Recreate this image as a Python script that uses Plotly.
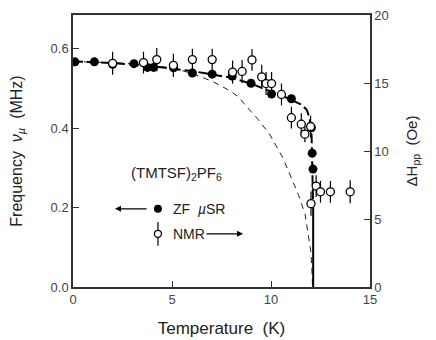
import plotly.graph_objects as go

# ZF muSR frequency (left axis)
T_musr = [0.1, 1.08, 2.0, 3.08, 3.76, 4.07, 5.08, 6.03, 7.03, 8.04, 8.99, 10.03, 11.03, 12.04, 12.08, 12.12]
f_musr = [0.567, 0.567, 0.561, 0.5625, 0.553, 0.553, 0.552, 0.539, 0.536, 0.531, 0.513, 0.486, 0.474, 0.401, 0.337, 0.297]

# NMR linewidth (right axis)
T_nmr = [2.0, 3.56, 4.23, 5.07, 6.03, 7.03, 8.06, 8.54, 9.04, 9.53, 9.75, 10.03, 10.53, 11.03, 11.53, 11.71, 12.0, 12.02, 12.28, 12.5, 13.0, 14.0]
dH_nmr = [16.45, 16.5, 16.72, 16.3, 16.72, 16.72, 15.8, 15.85, 16.7, 15.45, 14.96, 14.96, 14.16, 12.45, 11.97, 11.24, 11.8, 6.13, 7.42, 7.0, 7.0, 7.0]
dH_err = [0.85, 0.8, 0.85, 0.85, 0.8, 0.8, 0.85, 0.85, 0.8, 0.9, 0.85, 0.85, 0.8, 0.8, 0.8, 0.6, 0.8, 0.9, 0.8, 0.8, 0.8, 0.85]

# heavy dashed guide through muSR points
fit_T = [0, 2, 4, 6, 8, 9, 10, 10.5, 11, 11.5, 11.8, 11.95, 12.05, 12.1, 12.13]
fit_f = [0.568, 0.564, 0.556, 0.544, 0.527, 0.512, 0.492, 0.483, 0.472, 0.46, 0.447, 0.425, 0.38, 0.3, 0.2]
drop_T = [12.13, 12.13]
drop_f = [0.2, 0.0]

# thin dashed mean-field curve
mf_T = [0, 3, 5, 6, 7.08, 7.93, 8.35, 8.7, 9.3, 9.95, 10.6, 11.04, 11.38, 11.72, 11.89, 12.01, 12.06, 12.1]
mf_f = [0.568, 0.563, 0.552, 0.538, 0.517, 0.494, 0.479, 0.458, 0.425, 0.383, 0.325, 0.275, 0.233, 0.183, 0.133, 0.09, 0.05, 0.0]

FONT = "Liberation Sans"
INK = "#222"

fig = go.Figure()

fig.add_trace(go.Scatter(x=mf_T, y=mf_f, mode="lines",
                         line=dict(color=INK, width=1, dash="6px,5px"),
                         showlegend=False, hoverinfo="skip"))
fig.add_trace(go.Scatter(x=fit_T, y=fit_f, mode="lines",
                         line=dict(color="black", width=2, dash="10px,4px"),
                         showlegend=False, hoverinfo="skip"))
fig.add_trace(go.Scatter(x=drop_T, y=drop_f, mode="lines",
                         line=dict(color="black", width=2),
                         showlegend=False, hoverinfo="skip"))

fig.add_trace(go.Scatter(x=T_nmr, y=dH_nmr, yaxis="y2", mode="markers",
                         marker=dict(symbol="circle", size=8, color="white",
                                     line=dict(color="black", width=1.3)),
                         error_y=dict(type="data", array=dH_err, visible=True,
                                      color="black", thickness=1.2, width=0),
                         name="NMR", showlegend=False))
fig.add_trace(go.Scatter(x=T_musr, y=f_musr, mode="markers",
                         marker=dict(symbol="circle", size=9, color="black"),
                         name="ZF muSR", showlegend=False))

# legend-like key drawn inside the plot
fig.add_trace(go.Scatter(x=[4.29], y=[0.197], mode="markers",
                         marker=dict(symbol="circle", size=8, color="black"),
                         showlegend=False, hoverinfo="skip"))
fig.add_trace(go.Scatter(x=[4.29], y=[0.134], mode="markers",
                         marker=dict(symbol="circle", size=7, color="white",
                                     line=dict(color="black", width=1.3)),
                         error_y=dict(type="constant", value=0.03, visible=True,
                                      color="black", thickness=1.2, width=0),
                         showlegend=False, hoverinfo="skip"))

tf = dict(family=FONT, size=14, color=INK)
fig.add_annotation(x=2.85, y=0.287, xanchor="left", yanchor="middle", showarrow=False,
                   text="(TMTSF)<sub>2</sub>PF<sub>6</sub>", font=dict(family=FONT, size=15, color=INK))
fig.add_annotation(x=4.95, y=0.197, xanchor="left", yanchor="middle", showarrow=False,
                   text="ZF  <i>µ</i>SR", font=tf)
fig.add_annotation(x=4.95, y=0.134, xanchor="left", yanchor="middle", showarrow=False,
                   text="NMR", font=tf)
fig.add_annotation(x=2.12, y=0.197, ax=3.79, ay=0.197, axref="x", ayref="y",
                   showarrow=True, arrowhead=2, arrowsize=1, arrowwidth=1.2,
                   arrowcolor="black", text="")
fig.add_annotation(x=8.59, y=0.134, ax=6.67, ay=0.134, axref="x", ayref="y",
                   showarrow=True, arrowhead=2, arrowsize=1, arrowwidth=1.2,
                   arrowcolor="black", text="")

axis_common = dict(showline=True, linecolor="#333", linewidth=1.5, ticks="inside",
                   ticklen=6, tickcolor="#333", tickwidth=1.2, showgrid=False,
                   zeroline=False, automargin=False, ticklabeloverflow="allow",
                   tickfont=dict(family=FONT, size=13, color="#444"))

# the page body adds an 8px offset, so the figure is sized to fit inside the window
fig.update_layout(
    width=428, height=332,
    margin=dict(l=65, r=66, t=7, b=53),
    paper_bgcolor="white", plot_bgcolor="white",
    xaxis=dict(range=[0, 15], tickvals=[0, 5, 10, 15], mirror=True,
               title=dict(text="Temperature  (K)", font=dict(family=FONT, size=17, color=INK), standoff=16),
               **axis_common),
    yaxis=dict(range=[0, 0.685], tickvals=[0.0, 0.2, 0.4, 0.6], tickformat=".1f",
               title=dict(text="Frequency  <i>ν</i><sub><i>µ</i></sub>  (MHz)",
                          font=dict(family=FONT, size=16, color=INK), standoff=24),
               **axis_common),
    yaxis2=dict(range=[0, 20], tickvals=[0, 5, 10, 15, 20], overlaying="y", side="right",
                title=dict(text="ΔH<sub>pp</sub>  (Oe)", font=dict(family=FONT, size=15, color=INK), standoff=19),
                **axis_common),
)

fig.write_html("out.html")
